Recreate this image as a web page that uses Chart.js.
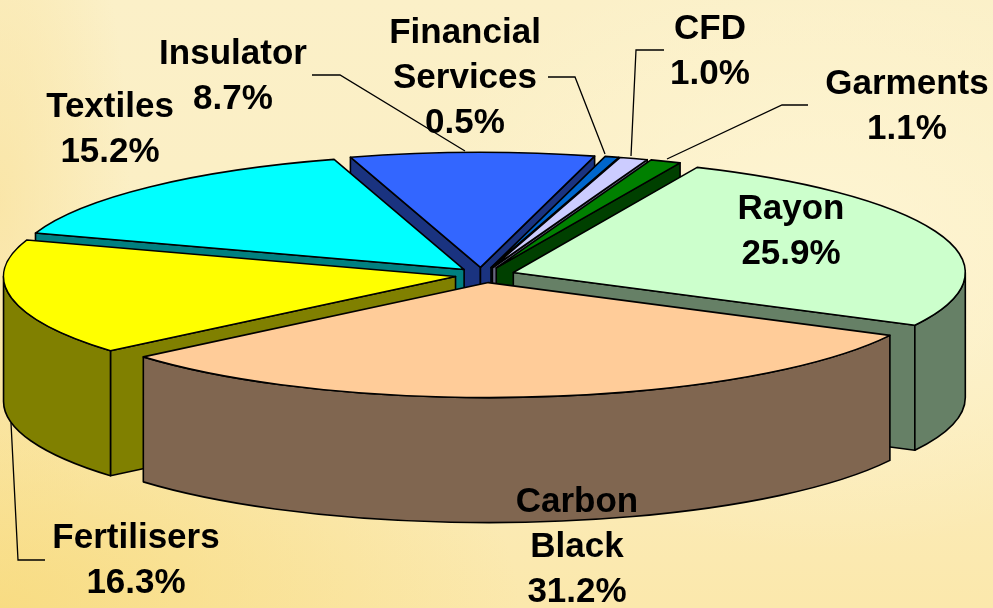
<!DOCTYPE html>
<html>
<head>
<meta charset="utf-8">
<style>
html,body{margin:0;padding:0;width:993px;height:608px;overflow:hidden}
body{background:
 radial-gradient(ellipse 420px 300px at 820px 250px,rgba(255,247,216,.75),rgba(255,247,216,0)),
 radial-gradient(ellipse 520px 300px at 0px 608px,rgba(247,217,120,.8),rgba(247,217,120,0)),
 radial-gradient(ellipse 130px 400px at 0px 200px,rgba(249,224,150,.6),rgba(249,224,150,0)),
 linear-gradient(180deg,#fbf0c8 0%,#fbeec2 55%,#fbe8ac 100%);}
canvas{display:block}
</style>
<script src="https://cdn.jsdelivr.net/npm/chart.js@4/dist/chart.umd.min.js"></script>
</head>
<body>
<canvas id="c" width="993" height="608"></canvas>
<script>
const categories = ['Rayon','Carbon Black','Fertilisers','Textiles','Insulator','Financial Services','CFD','Garments'];
const shares = [25.9,31.2,16.3,15.2,8.7,0.5,1.0,1.1];
const topColors = ['#CCFFCC','#FFCC99','#FFFF00','#00FFFF','#3366FF','#0066CC','#CCCCFF','#008000'];
const sideColors = ['#668066','#806650','#808000','#008080','#1A3380','#003366','#666680','#004000'];
const labelLines = [
  ['Rayon','25.9%'],['Carbon','Black','31.2%'],['Fertilisers','16.3%'],['Textiles','15.2%'],
  ['Insulator','8.7%'],['Financial','Services','0.5%'],['CFD','1.0%'],['Garments','1.1%']];
const labelPos = [[791,209],[577,502],[136,538],[110,107],[233,54],[465,33],[710,29],[907,84]];
const leaders = [
  [[312,75],[340,75],[465,151]],
  [[548,77],[575,77],[605,154]],
  [[664,50],[636,50],[631,156]],
  [[808,105],[782,105],[667,159]],
  [[45,560],[18,560],[11,423]]];
const paintOrder = [4,5,6,7,0,3,2,1];
const backNudge = [0,0,0,0,-4,-2,-2,0];
const START_DEG = 24, RADIUS = 452, SQUASH = 115/452, DEPTH = 125, EXPLODE = 30;
const CENTER_PAD_RIGHT = 23, CENTER_PAD_BOTTOM = 58;
const FONT = 'bold 35px "Liberation Sans", Arial, sans-serif', LINE_H = 45;

const pie3d = {
  id:'pie3d',
  beforeDatasetsDraw(chart){
    const ctx = chart.ctx, arcs = chart.getDatasetMeta(0).data;
    ctx.save();
    ctx.lineWidth = 1.6; ctx.strokeStyle = '#000'; ctx.lineJoin = 'round';
    for(const i of paintOrder){
      const el = arcs[i], s = el.startAngle, e = el.endAngle, m = (s+e)/2, R = el.outerRadius;
      const ex = Math.cos(m)*EXPLODE+backNudge[i], ey = Math.sin(m)*EXPLODE;
      const ax = el.x+ex, ay = el.y+ey*SQUASH, ry = R*SQUASH;
      ctx.fillStyle = sideColors[i];
      const wall = a => {
        const px = ax+Math.cos(a)*R, py = ay+Math.sin(a)*ry;
        ctx.beginPath(); ctx.moveTo(ax,ay); ctx.lineTo(px,py);
        ctx.lineTo(px,py+DEPTH); ctx.lineTo(ax,ay+DEPTH); ctx.closePath();
        ctx.fill(); ctx.stroke();
      };
      if(Math.cos(s)<0) wall(s);
      if(Math.cos(e)>0) wall(e);
      for(let k=-1;k<=2;k++){
        const a1 = Math.max(s,k*2*Math.PI), a2 = Math.min(e,k*2*Math.PI+Math.PI);
        if(a2>a1){
          ctx.beginPath();
          ctx.ellipse(ax,ay,R,ry,0,a1,a2);
          ctx.ellipse(ax,ay+DEPTH,R,ry,0,a2,a1,true);
          ctx.closePath(); ctx.fill(); ctx.stroke();
        }
      }
      ctx.save();
      ctx.translate(0,el.y); ctx.scale(1,SQUASH); ctx.translate(0,-el.y); ctx.translate(ex,ey);
      el.draw(ctx);
      ctx.restore();
      ctx.beginPath(); ctx.moveTo(ax,ay); ctx.ellipse(ax,ay,R,ry,0,s,e); ctx.closePath(); ctx.stroke();
    }
    ctx.restore();
    return false;
  },
  afterDraw(chart){
    const ctx = chart.ctx;
    ctx.save();
    ctx.strokeStyle = '#000'; ctx.lineWidth = 1.3;
    for(const l of leaders){
      ctx.beginPath();
      l.forEach((p,i)=> i ? ctx.lineTo(p[0],p[1]) : ctx.moveTo(p[0],p[1]));
      ctx.stroke();
    }
    ctx.fillStyle = '#000'; ctx.font = FONT; ctx.textAlign = 'center'; ctx.textBaseline = 'middle';
    labelLines.forEach((lines,i)=>{
      lines.forEach((t,j)=> ctx.fillText(t,labelPos[i][0],labelPos[i][1]+j*LINE_H));
    });
    ctx.restore();
  }
};

new Chart(document.getElementById('c'),{
  type:'pie',
  data:{labels:categories,datasets:[{data:shares,backgroundColor:topColors,borderWidth:0}]},
  options:{
    responsive:false,animation:false,rotation:START_DEG,radius:RADIUS,
    layout:{padding:{right:CENTER_PAD_RIGHT,bottom:CENTER_PAD_BOTTOM}},
    plugins:{legend:{display:false},tooltip:{enabled:false}}
  },
  plugins:[pie3d]
});
</script>
</body>
</html>
